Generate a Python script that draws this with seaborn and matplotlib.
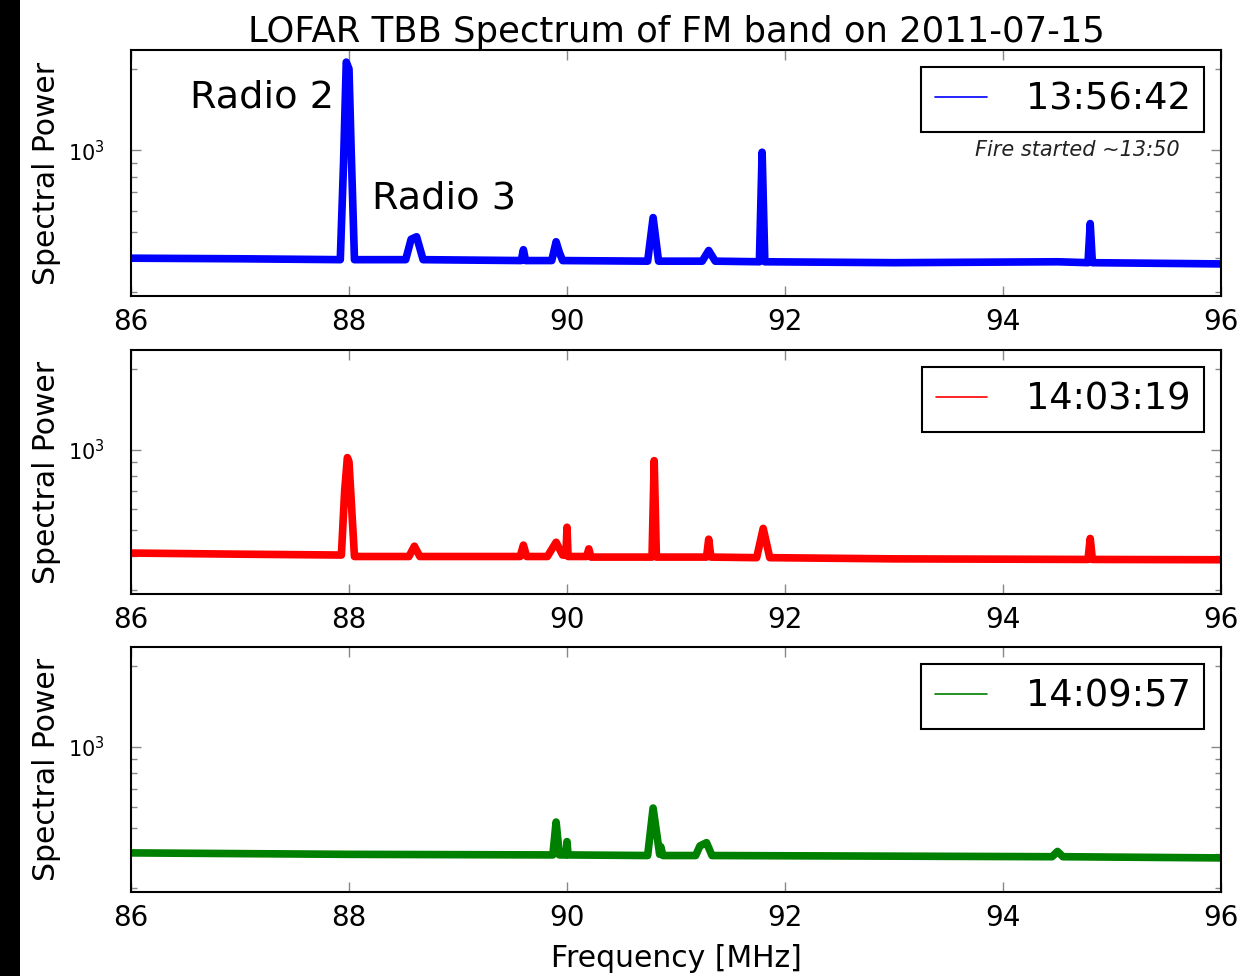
import numpy as np
import pandas as pd
import matplotlib
matplotlib.use("Agg")
import matplotlib.pyplot as plt
import matplotlib.ticker as mticker
from matplotlib.patches import Rectangle
import seaborn as sns

# ---------------- data ----------------
title = "LOFAR TBB Spectrum of FM band on 2011-07-15"
times = ["13:56:42", "14:03:19", "14:09:57"]
colors = ["#0000ff", "#ff0000", "#008000"]

# Panel 1 (13:56:42)
freq_1 = [86.0, 87.0, 87.92, 87.95, 87.975, 88.0, 88.02, 88.05, 88.52, 88.57, 88.62, 88.68,
          89.58, 89.6, 89.62, 89.86, 89.9, 89.93, 89.96, 90.74, 90.79, 90.84, 91.24, 91.3,
          91.36, 91.765, 91.79, 91.815, 93.0, 94.5, 94.78, 94.8, 94.82, 96.0]
power_1 = [400, 398, 395, 900, 2120, 2000, 1000, 395, 395, 470, 480, 395,
           392, 430, 392, 392, 460, 420, 392, 390, 565, 390, 390, 427,
           390, 388, 985, 388, 385, 388, 385, 537, 385, 381]

# Panel 2 (14:03:19)
freq_2 = [86.0, 87.0, 87.93, 87.96, 87.985, 88.0, 88.02, 88.05, 88.55, 88.6, 88.65,
          89.57, 89.6, 89.63, 89.82, 89.9, 89.96, 89.99, 90.0, 90.01, 90.18, 90.2, 90.22,
          90.78, 90.8, 90.82, 91.28, 91.3, 91.32, 91.74, 91.8, 91.86, 93.0, 94.78, 94.8,
          94.82, 96.0]
power_2 = [412, 408, 405, 700, 934, 900, 650, 400, 400, 437, 400,
           400, 441, 400, 400, 452, 405, 405, 514, 400, 400, 427, 398,
           398, 910, 398, 398, 464, 398, 396, 509, 396, 392, 390, 467,
           390, 389]

# Panel 3 (14:09:57)
freq_3 = [86.0, 88.0, 89.87, 89.9, 89.93, 89.99, 90.0, 90.01, 90.74, 90.79, 90.85,
          90.86, 90.88, 91.18, 91.22, 91.28, 91.33, 94.45, 94.5, 94.55, 96.0]
power_3 = [405, 400, 398, 527, 398, 398, 446, 398, 396, 594, 400,
           427, 396, 396, 430, 442, 396, 392, 410, 392, 388]

freqs = [freq_1, freq_2, freq_3]
powers = [power_1, power_2, power_3]

x_ticks = [86, 88, 90, 92, 94, 96]

# ---------------- style ----------------
sns.set_theme(style="ticks")
plt.rcParams["font.family"] = ["DejaVu Sans"]
plt.rcParams["xtick.direction"] = "in"
plt.rcParams["ytick.direction"] = "in"
plt.rcParams["text.color"] = "black"
plt.rcParams["axes.labelcolor"] = "black"
plt.rcParams["xtick.labelcolor"] = "black"
plt.rcParams["ytick.labelcolor"] = "black"

fig = plt.figure(figsize=(12.51, 9.76), dpi=100)
fig.patch.set_facecolor("white")

W, H = 1251.0, 976.0
left_px, right_px = 131, 1221
panels_px = [(50, 296), (350, 594), (647, 892)]

for i, (top, bot) in enumerate(panels_px):
    ax = fig.add_axes([left_px / W, 1 - bot / H, (right_px - left_px) / W, (bot - top) / H])
    df = pd.DataFrame({"Frequency": freqs[i], "Power": powers[i]})
    sns.lineplot(data=df, x="Frequency", y="Power", ax=ax, color=colors[i],
                 linewidth=5.5, label=times[i], sort=True, estimator=None)
    ax.set_yscale("log")
    ax.set_xlim(86, 96)
    ax.set_ylim(290, 2350)
    ax.set_xticks(x_ticks)
    ax.set_xticklabels([str(t) for t in x_ticks])
    ax.yaxis.set_major_locator(mticker.FixedLocator([1000]))
    ax.yaxis.set_major_formatter(mticker.FixedFormatter([r"$10^{3}$"]))
    ax.yaxis.set_minor_locator(mticker.LogLocator(base=10, subs=np.arange(2, 10)))
    ax.yaxis.set_minor_formatter(mticker.NullFormatter())
    ax.tick_params(axis="x", which="major", labelsize=20, length=7, width=1,
                   color="#888888", top=True, bottom=True, pad=9)
    ax.tick_params(axis="y", which="major", labelsize=15, length=7, width=1,
                   color="#888888", left=True, right=True, pad=19)
    ax.tick_params(axis="y", which="minor", length=4, width=1, color="#888888",
                   left=True, right=True)
    ax.set_xlabel("")
    ax.set_ylabel("Spectral Power", fontsize=21.5, labelpad=5)
    for s in ax.spines.values():
        s.set_color("black")
        s.set_linewidth(1.5)
    leg = ax.legend(loc="upper right", fontsize=26.5, fancybox=False, framealpha=1,
                    edgecolor="black", handlelength=1.4, handletextpad=1.05,
                    borderpad=0.38, borderaxespad=0.45)
    leg.get_frame().set_linewidth(1.5)
    for ln in leg.get_lines():
        ln.set_linewidth(1.2)
    if i == 0:
        ax.set_title(title, fontsize=25.5, pad=6)
        ax.text(86.54, 1570, "Radio 2", fontsize=27.5, ha="left", va="center")
        ax.text(88.21, 664, "Radio 3", fontsize=27.5, ha="left", va="center")
        ax.text(95.62, 1000, "Fire started ~13:50", fontsize=15, style="italic",
                ha="right", va="center", color="#222222")
    if i == 2:
        ax.set_xlabel("Frequency [MHz]", fontsize=21.5, labelpad=8)

# black strip on the left edge (scan border in the reference)
fig.patches.append(Rectangle((0, 0), 20 / W, 1, transform=fig.transFigure,
                             facecolor="black", edgecolor="none", zorder=10))

fig.savefig("out.png", dpi=100)
